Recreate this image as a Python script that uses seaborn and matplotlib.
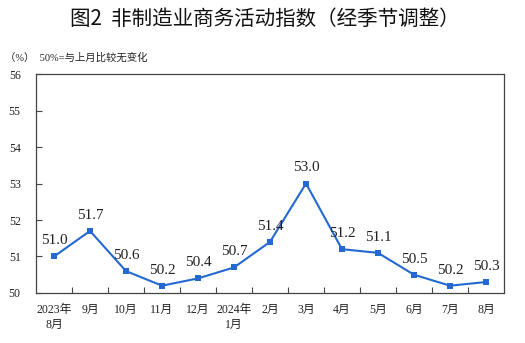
import matplotlib
matplotlib.use("Agg")
import matplotlib.pyplot as plt
import seaborn as sns
import pandas as pd

months = ["2023年\n8月", "9月", "10月", "11月", "12月", "2024年\n1月", "2月",
          "3月", "4月", "5月", "6月", "7月", "8月"]
index_values = [51.0, 51.7, 50.6, 50.2, 50.4, 50.7, 51.4, 53.0, 51.2, 51.1, 50.5, 50.2, 50.3]
y_ticks = [50, 51, 52, 53, 54, 55, 56]

sns.set_theme(style="white")
serif = ["Liberation Serif", "Noto Sans CJK SC"]
plt.rcParams["font.family"] = serif

df = pd.DataFrame({"pos": range(len(months)), "value": index_values})

fig = plt.figure(figsize=(5.25, 3.43), dpi=100)
ax = fig.add_axes([0.0686, 0.1458, 0.8914, 0.6384])

line_color = "#2469d1"
sns.lineplot(data=df, x="pos", y="value", ax=ax, color=line_color, linewidth=1.5,
             marker="s", markersize=5, markeredgewidth=0, markerfacecolor=line_color)

for x, v in zip(df["pos"], df["value"]):
    ax.annotate(f"{v:.1f}", (x, v), xytext=(0, 6.5), textcoords="offset points",
                ha="center", va="bottom", fontsize=11, color="#222222",
                family=serif)

ax.set_xlim(-0.5, len(months) - 0.5)
ax.set_ylim(50, 56)
ax.set_yticks(y_ticks)
ax.set_yticklabels([str(t) for t in y_ticks], fontsize=8.5, color="#222222")
ax.set_xticks(range(len(months)))
ax.set_xticklabels(months, fontsize=8.5, color="#222222", linespacing=1.3)
ax.tick_params(axis="x", length=0, pad=8)
ax.set_xticks([i + 0.5 for i in range(len(months) - 1)], minor=True)
ax.tick_params(axis="x", which="minor", direction="in", length=4, width=0.8,
               color="#444444", bottom=True)
ax.tick_params(axis="y", direction="in", length=4, width=0.8, color="#444444",
               left=True, pad=11)
ax.set_xlabel("")
ax.set_ylabel("")
for s in ax.spines.values():
    s.set_color("#444444")
    s.set_linewidth(0.9)

fig.text(0.505, 0.945, "图2  非制造业商务活动指数（经季节调整）", ha="center", va="center",
         fontsize=14.8, fontweight="medium", color="#111111",
         family=["Noto Sans CJK SC", "DejaVu Sans"])
fig.text(0.01, 0.833, "（%）  50%=与上月比较无变化", ha="left", va="center",
         fontsize=7.5, color="#222222", family=serif)

fig.savefig("out.png", dpi=100, facecolor="white")
